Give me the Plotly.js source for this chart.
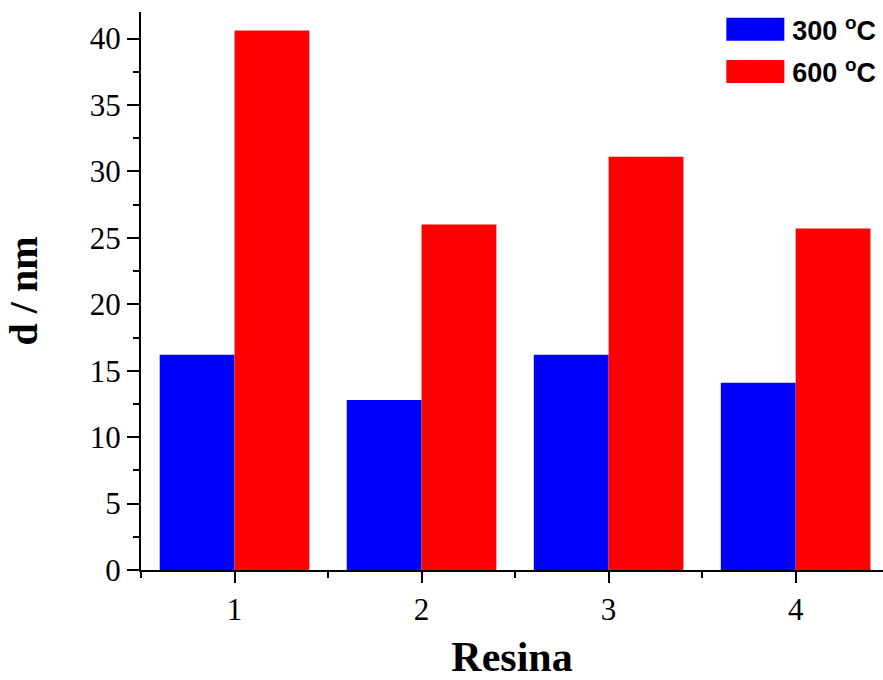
<!DOCTYPE html>
<html>
<head>
<meta charset="utf-8">
<script src="https://cdn.plot.ly/plotly-3.0.1.min.js"></script>
<style>html,body{margin:0;padding:0;background:#fff;}#chart{width:883px;height:680px;}</style>
</head>
<body>
<div id="chart"></div>
<script>
const categories = [1, 2, 3, 4];
const series300 = [16.2, 12.8, 16.2, 14.1];
const series600 = [40.6, 26.0, 31.1, 25.7];
const seriesNames = ['300 <sup>o</sup>C', '600 <sup>o</sup>C'];
const yTickVals = [0, 5, 10, 15, 20, 25, 30, 35, 40];
const xTickVals = [1, 2, 3, 4];

const serif = 'Liberation Serif, Times New Roman, serif';
const sans = 'Liberation Sans, Arial, sans-serif';

const traces = [
  {type: 'bar', x: categories, y: series300, name: seriesNames[0], legendgroup: 'a',
   marker: {color: '#0000ff', line: {width: 0}}},
  {type: 'bar', x: categories, y: series600, name: seriesNames[1], legendgroup: 'b',
   marker: {color: '#ff0000', line: {width: 0}}}
];

const layout = {
  width: 883, height: 680,
  margin: {l: 141, r: 0, t: 12, b: 110},
  paper_bgcolor: '#fff', plot_bgcolor: '#fff',
  barmode: 'group', bargap: 0.2, bargroupgap: 0,
  showlegend: true,
  legend: {x: 0.77, xanchor: 'left', y: 1.012, yanchor: 'top',
           traceorder: 'grouped', tracegroupgap: 4,
           bgcolor: 'rgba(0,0,0,0)', borderwidth: 0, itemwidth: 70,
           font: {family: sans, size: 27, color: '#000', weight: 'bold'}},
  xaxis: {range: [0.5, 4.467], tickvals: xTickVals, ticktext: xTickVals.map(String),
          showline: true, linecolor: '#000', linewidth: 2, zeroline: false, showgrid: false,
          ticks: 'outside', ticklen: 11, tickwidth: 2, tickcolor: '#000',
          minor: {tickvals: [0.5, 1.5, 2.5, 3.5], ticks: 'outside', ticklen: 6, tickwidth: 2, tickcolor: '#000'},
          tickfont: {family: serif, size: 31, color: '#000'},
          title: {text: 'Resina', standoff: 24, font: {family: serif, size: 42, color: '#000', weight: 'bold'}},
          automargin: false},
  xaxis2: {overlaying: 'x', side: 'top', range: [0.5, 4.467],
           tickvals: [0.5, 1, 1.5, 2, 2.5, 3, 3.5, 4], showticklabels: false,
           showline: true, linecolor: '#000', linewidth: 2, zeroline: false, showgrid: false,
           ticks: 'inside', ticklen: 3, tickwidth: 2, tickcolor: '#000'},
  yaxis: {range: [0, 42], tickvals: yTickVals, ticktext: yTickVals.map(String),
          showline: true, linecolor: '#000', linewidth: 2, zeroline: false, showgrid: false,
          ticks: 'outside', ticklen: 12, tickwidth: 2, tickcolor: '#000',
          minor: {dtick: 2.5, tick0: 0, ticks: 'outside', ticklen: 6, tickwidth: 2, tickcolor: '#000'},
          tickfont: {family: serif, size: 31, color: '#000'},
          title: {text: 'd / nm', standoff: 40, font: {family: serif, size: 40, color: '#000', weight: 'bold'}},
          automargin: false}
};

const gd = document.getElementById('chart');
Plotly.newPlot(gd, traces, layout, {staticPlot: true, displayModeBar: false}).then(function () {
  // enlarge legend swatches to wide rectangles like the reference
  gd.querySelectorAll('.legend .traces').forEach(function (g) {
    const text = g.querySelector('text.legendtext');
    const path = g.querySelector('.legendpoints path');
    if (!text || !path) return;
    const tb = text.getBoundingClientRect();
    const pb = path.getBoundingClientRect();
    const cx = pb.left + pb.width / 2, cy = pb.top + pb.height / 2;
    const right = tb.left - 8, left = right - 58;
    const top = cy - 11.5;
    path.setAttribute('d', 'M' + (left - cx) + ',' + (top - cy) + 'h58v23h-58Z');
    path.style.strokeWidth = '0';
  });
  gd.querySelectorAll('.legend [clip-path]').forEach(function (el) { el.removeAttribute('clip-path'); });
});
</script>
</body>
</html>
